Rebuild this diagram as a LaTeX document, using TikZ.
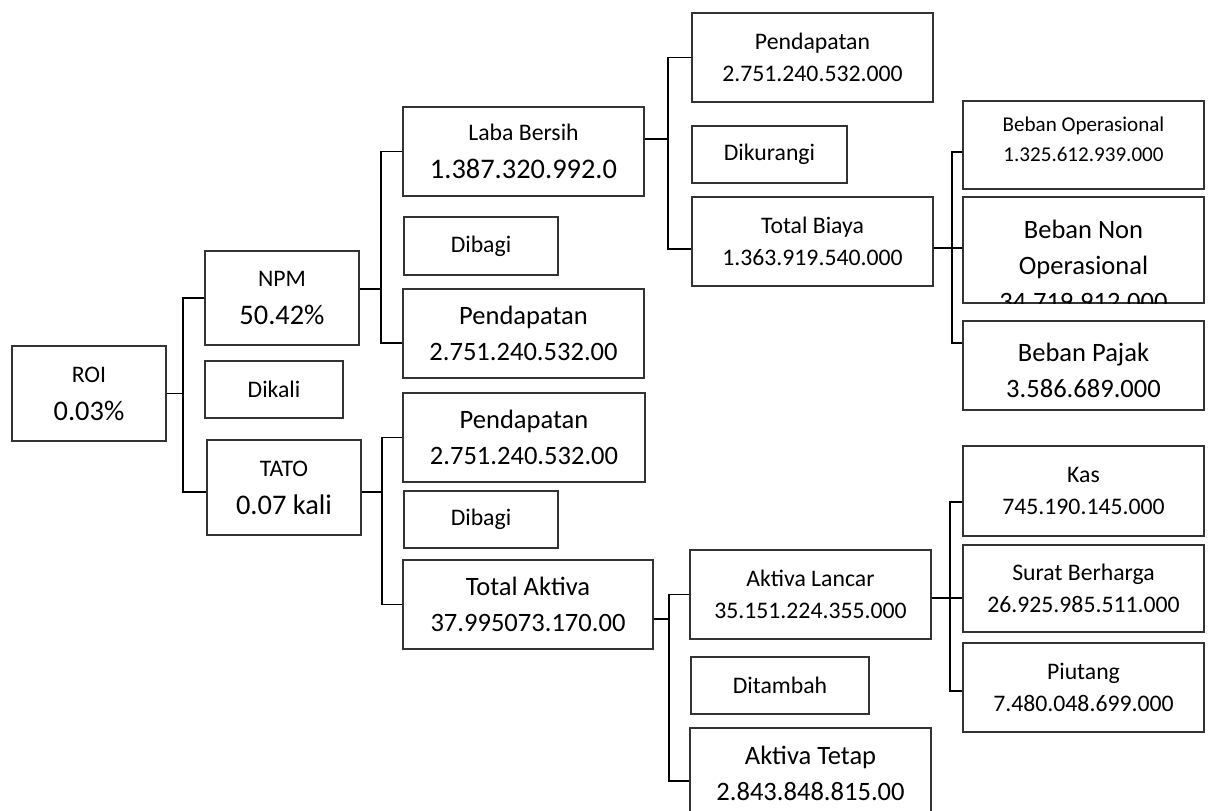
\documentclass[tikz,border=0pt]{standalone}
\usepackage{fontspec}
\setmainfont{Carlito}
\newlength\unitpx
\setlength\unitpx{0.75pt}
\newcommand\fxs{\fontsize{15.8pt}{22.5pt}\selectfont}
\newcommand\fsm{\fontsize{17.8pt}{24pt}\selectfont}
\newcommand\flg{\fontsize{19.9pt}{27pt}\selectfont}
\newcommand\fxl{\fontsize{21.3pt}{28.5pt}\selectfont}
\tikzset{
  box/.style={draw=black!80, line width=1.1pt, inner sep=0pt, align=center, font=\fsm},
  wh/.style 2 args={minimum width=#1\unitpx, minimum height=#2\unitpx},
  link/.style={line width=1.3pt}
}

\begin{document}
\begin{tikzpicture}[x=0.75pt, y=-0.75pt]
  \useasboundingbox (0,0) rectangle (1208,811);
  \clip (0,0) rectangle (1208,811);

  \node[box, wh={154}{95}, font=\fxl] (roi) at (89,393.5) {{\fsm ROI}\\0.03\%};
  \node[box, wh={154}{94}, font=\fxl] (npm) at (282,298) {{\fsm NPM}\\50.42\%};
  \node[box, wh={138}{57}] (dikali) at (274,389.5) {Dikali};
  \node[box, wh={154}{95}, font=\fxl] (tato) at (284,487.5) {{\fsm TATO}\\0.07 kali};

  \node[box, wh={241}{89}, font=\fxl] (laba) at (523.5,151.5) {{\fsm Laba Bersih}\\1.387.320.992.0};
  \node[box, wh={154}{58}] (bagi1) at (481,246) {Dibagi};
  \node[box, wh={241}{89}, font=\flg] (pdnpm) at (523.5,333.5) {Pendapatan\\2.751.240.532.00};
  \node[box, wh={242}{89}, font=\flg] (pdtato) at (524,437.5) {Pendapatan\\2.751.240.532.00};
  \node[box, wh={154}{57}] (bagi2) at (481,519.5) {Dibagi};
  \node[box, wh={250}{89}, font=\flg] (aktiva) at (528,604.5) {Total Aktiva\\37.995073.170.00};

  \node[box, wh={241}{89}] (pdlaba) at (812.5,57.5) {Pendapatan\\2.751.240.532.000};
  \node[box, wh={155}{57}] (kurang) at (769.5,154.5) {Dikurangi};
  \node[box, wh={241}{89}] (biaya) at (812.5,241.5) {Total Biaya\\1.363.919.540.000};

  \node[box, wh={241}{88}, font=\fxs, text depth=8pt] (bop) at (1083.5,145) {Beban Operasional\\1.325.612.939.000};
  \node[box, wh={241}{106}] (bnon) at (1083.5,250) {};
  \begin{scope}
    \clip (bnon.south west) rectangle (bnon.north east);
    \node[align=center, inner sep=0pt, font=\flg] (bnontxt) at (1083.5,265) {Beban Non\\Operasional\\34.719.912.000};
  \end{scope}
  \node[box, wh={241}{89}] (pajak) at (1083.5,365.5) {};
  \node[align=center, inner sep=0pt, font=\flg] (pajaktxt) at (1083.5,370) {Beban Pajak\\3.586.689.000};

  \node[box, wh={241}{89}] (alancar) at (810.5,594.5) {Aktiva Lancar\\35.151.224.355.000};
  \node[box, wh={178}{57}] (tambah) at (780,685.5) {Ditambah};
  \node[box, wh={241}{90}, font=\flg] (atetap) at (810.5,773) {Aktiva Tetap\\2.843.848.815.00};

  \node[box, wh={241}{90}] (kas) at (1083.5,491) {Kas\\745.190.145.000};
  \node[box, wh={241}{87}] (surat) at (1083.5,588.5) {Surat Berharga\\26.925.985.511.000};
  \node[box, wh={241}{89}] (piutang) at (1083.5,687.5) {Piutang\\7.480.048.699.000};

  \draw[link] (roi.east) -- ++(16,0) coordinate (b1);
  \draw[link] (npm.west) -| (b1) |- ([yshift=-3.4pt]tato.west);

  \draw[link] ([yshift=6.75pt]npm.east) -- ++(21,0) coordinate (b2);
  \draw[link] (laba.west) -| (b2) |- ([yshift=-7pt]pdnpm.west);

  \draw[link] ([yshift=-3.4pt]tato.east) -- ++(20,0) coordinate (b3);
  \draw[link] (pdtato.west) -| (b3) |- (aktiva.west);

  \draw[link] ([yshift=9.4pt]laba.east) -- ++(23,0) coordinate (b4);
  \draw[link] (pdlaba.west) -| (b4) |- ([yshift=-5.4pt]biaya.west);

  \draw[link] ([yshift=-5pt]biaya.east) -- ([yshift=-5pt]biaya.east -| bnon.west);
  \draw[link] ([yshift=-5.25pt]bop.west) -- ++(-10,0) |- ([yshift=16.9pt]pajak.west);

  \draw[link] ([yshift=-10.9pt]aktiva.east) -- ++(15,0) coordinate (b6);
  \draw[link] (alancar.west) -| (b6) |- ([yshift=-6pt]atetap.west);

  \draw[link] ([yshift=-2.6pt]alancar.east) -- ([yshift=-2.6pt]alancar.east -| surat.west);
  \draw[link] ([yshift=-8.25pt]kas.west) -- ++(-12,0) |- ([yshift=-2.6pt]piutang.west);
\end{tikzpicture}
\end{document}
